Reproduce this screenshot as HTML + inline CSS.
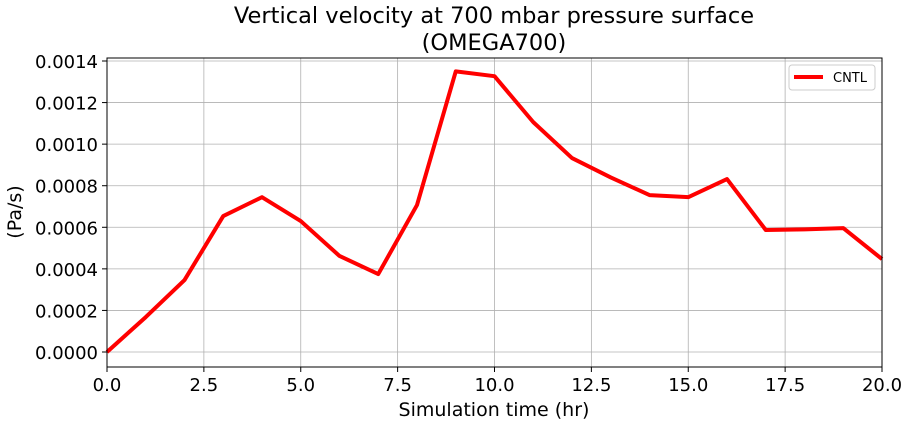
<!DOCTYPE html>
<html><head><meta charset="utf-8"><style>body{margin:0;background:#fff}svg{display:block;font-family:"DejaVu Sans","Liberation Sans",sans-serif}</style></head>
<body>
<svg id="chart" width="909" height="424"></svg>
<script>
const hours=[0,1,2,3,4,5,6,7,8,9,10,11,12,13,14,15,16,17,18,19,20];
const cntl=[0,0.000168,0.000346,0.000654,0.000745,0.00063,0.000462,0.000375,0.000707,0.00135,0.001327,0.001106,0.000933,0.00084,0.000755,0.000745,0.000832,0.000587,0.00059,0.000596,0.000447];
const xTicks=[0,2.5,5,7.5,10,12.5,15,17.5,20];
const xTickLabels=["0.0","2.5","5.0","7.5","10.0","12.5","15.0","17.5","20.0"];
const yTicks=[0,0.0002,0.0004,0.0006,0.0008,0.001,0.0012,0.0014];
const yTickLabels=["0.0000","0.0002","0.0004","0.0006","0.0008","0.0010","0.0012","0.0014"];
const L=107,R=882,T=58,B=367;
const X=v=>L+(v-0)/20*(R-L);
const Y=v=>352-v/0.0014*291;
const svg=document.getElementById('chart');
const NS='http://www.w3.org/2000/svg';
function el(t,a,p){const e=document.createElementNS(NS,t);for(const k in a)e.setAttribute(k,a[k]);(p||svg).appendChild(e);return e;}
xTicks.forEach((v,i)=>{
  const g=el('line',{x1:X(v),x2:X(v),y1:T,y2:B,stroke:'#b0b0b0','stroke-width':0.8});
  
  
  el('line',{x1:X(v),x2:X(v),y1:B,y2:B+5,stroke:'#000'});
  const t=el('text',{x:X(v),y:B+24,'text-anchor':'middle','font-size':18});t.textContent=xTickLabels[i];
  
  
});
yTicks.forEach((v,i)=>{
  const g=el('line',{x1:L,x2:R,y1:Y(v),y2:Y(v),stroke:'#b0b0b0','stroke-width':0.8});
  
  
  el('line',{x1:L-5,x2:L,y1:Y(v),y2:Y(v),stroke:'#000'});
  const t=el('text',{x:L-9,y:Y(v)+7,'text-anchor':'end','font-size':18});t.textContent=yTickLabels[i];
  
  
});
const line=el('polyline',{points:hours.map((h,i)=>X(h)+','+Y(cntl[i])).join(' '),fill:'none',stroke:'#ff0000','stroke-width':4,'stroke-linejoin':'round'});


const fr=el('rect',{x:L,y:T,width:R-L,height:B-T,fill:'none',stroke:'#000','stroke-width':1});


const lg=el('g',{});


el('rect',{x:789,y:65,width:86,height:25,rx:3,fill:'#fff',stroke:'#ccc'},lg);
el('line',{x1:794,x2:823,y1:77,y2:77,stroke:'#ff0000','stroke-width':4},lg);
const lt=el('text',{x:833,y:82,'font-size':13},lg);lt.textContent='CNTL';


const t1=el('text',{x:494,y:23,'text-anchor':'middle','font-size':22.5});t1.textContent='Vertical velocity at 700 mbar pressure surface';


const t2=el('text',{x:494,y:50,'text-anchor':'middle','font-size':22.5});t2.textContent='(OMEGA700)';


const xl=el('text',{x:494,y:416,'text-anchor':'middle','font-size':19});xl.textContent='Simulation time (hr)';


const yl=el('text',{x:0,y:0,'text-anchor':'middle','font-size':19,transform:'translate(21,212) rotate(-90)'});yl.textContent='(Pa/s)';


</script>
</body></html>
